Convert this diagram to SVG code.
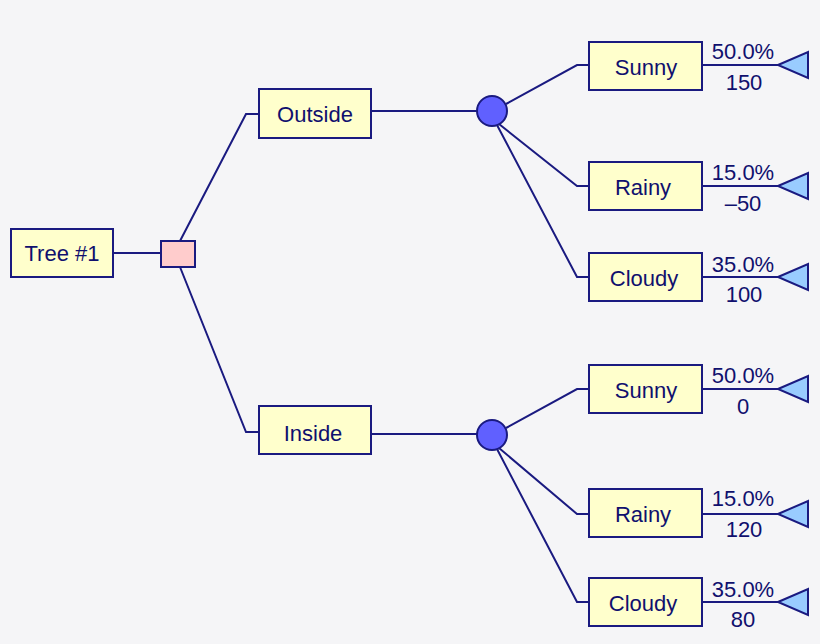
<svg xmlns="http://www.w3.org/2000/svg" width="820" height="644" viewBox="0 0 820 644">
<style>
.b{fill:#ffffcc;stroke:#1a1a80;stroke-width:2}
.t{font-family:"Liberation Sans",Arial,sans-serif;font-size:22px;fill:#10106e;text-anchor:middle}
.c{fill:none;stroke:#1a1a80;stroke-width:2}
.ch{fill:#6060ff;stroke:#1a1a80;stroke-width:2}
.tr{fill:#99ccff;stroke:#1a1a80;stroke-width:2}
</style>
<rect width="820" height="644" fill="#f5f5f7"/>
<g id="connectors" class="c">
<path d="M113 253H161"/>
<path d="M180 241L246 114H259"/>
<path d="M180 267L246 432H259"/>
<path d="M371 111H477"/>
<path d="M371 434H477"/>
<path d="M506 104L577 65H589M499 124L577 186H589M497 125L577 277H589"/>
<path d="M506 428L577 389H589M499 448L577 514H589M497 449L577 602H589"/>
<path d="M702 65H778M702 186H778M702 277H778M702 389H778M702 514H778M702 602H778"/>
</g>
<g id="tree"><rect class="b" x="11" y="229" width="102" height="48"/><text class="t" x="62" y="261">Tree #1</text></g>
<g id="decision"><rect x="161" y="241" width="34" height="26" fill="#ffcccc" stroke="#1a1a80" stroke-width="2"/></g>
<g id="outside"><rect class="b" x="259" y="89" width="112" height="49"/><text class="t" x="315" y="122">Outside</text></g>
<g id="inside"><rect class="b" x="259" y="406" width="112" height="48"/><text class="t" x="313" y="441">Inside</text></g>
<g id="chance1"><circle class="ch" cx="492" cy="111" r="15"/></g>
<g id="chance2"><circle class="ch" cx="492" cy="435" r="15"/></g>
<g id="o-sunny"><rect class="b" x="589" y="42" width="113" height="48"/><text class="t" x="646" y="75">Sunny</text></g>
<g id="o-rainy"><rect class="b" x="589" y="162" width="113" height="48"/><text class="t" x="643" y="195">Rainy</text></g>
<g id="o-cloudy"><rect class="b" x="589" y="253" width="113" height="48"/><text class="t" x="644" y="286">Cloudy</text></g>
<g id="i-sunny"><rect class="b" x="589" y="365" width="113" height="48"/><text class="t" x="646" y="398">Sunny</text></g>
<g id="i-rainy"><rect class="b" x="589" y="489" width="113" height="48"/><text class="t" x="643" y="522">Rainy</text></g>
<g id="i-cloudy"><rect class="b" x="589" y="578" width="113" height="48"/><text class="t" x="643" y="611">Cloudy</text></g>
<g id="term1"><polygon class="tr" points="778,65 808,52 808,78"/><text class="t" x="743" y="59">50.0%</text><text class="t" x="744" y="90">150</text></g>
<g id="term2"><polygon class="tr" points="778,186 808,173 808,199"/><text class="t" x="743" y="180">15.0%</text><text class="t" x="743" y="211">–50</text></g>
<g id="term3"><polygon class="tr" points="778,277 808,264 808,290"/><text class="t" x="743" y="272">35.0%</text><text class="t" x="744" y="302">100</text></g>
<g id="term4"><polygon class="tr" points="778,389 808,376 808,402"/><text class="t" x="743" y="383">50.0%</text><text class="t" x="743" y="414">0</text></g>
<g id="term5"><polygon class="tr" points="778,514 808,501 808,527"/><text class="t" x="743" y="506">15.0%</text><text class="t" x="744" y="537">120</text></g>
<g id="term6"><polygon class="tr" points="778,602 808,589 808,615"/><text class="t" x="743" y="597">35.0%</text><text class="t" x="743" y="627">80</text></g>
</svg>
